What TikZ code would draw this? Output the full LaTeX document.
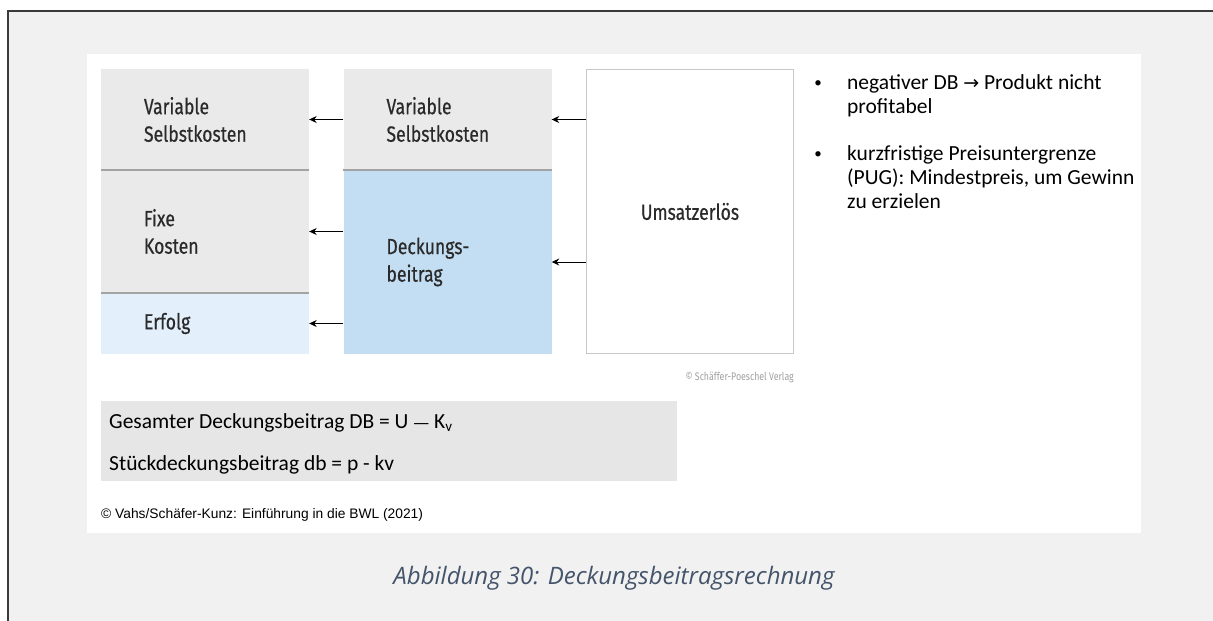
\documentclass[tikz,border=0pt]{standalone}
\usepackage{fontspec}
\setmainfont{Fira Sans}
\newfontfamily\condf[FakeStretch=0.8,FakeBold=0.5]{Fira Sans}
\newfontfamily\verlf[FakeStretch=0.8]{Fira Sans}
\newfontfamily\rndf{Carlito}
\newfontfamily\arialf{Liberation Sans}
\newfontfamily\capf{Open Sans}
\newfontfamily\symf{DejaVu Sans}
\usetikzlibrary{arrows.meta,calc}
\definecolor{bggray}{HTML}{F1F1F1}
\definecolor{frameline}{HTML}{3A3A3A}
\definecolor{boxgray}{HTML}{EAEAEA}
\definecolor{divgray}{HTML}{A3A3A3}
\definecolor{dbblue}{HTML}{C3DEF2}
\definecolor{erfblue}{HTML}{E3EFFB}
\definecolor{formgray}{HTML}{E6E6E6}
\definecolor{captblue}{HTML}{44546A}
\definecolor{txtdark}{HTML}{2A2A2A}
\definecolor{umline}{HTML}{C8C8C8}
\definecolor{verlag}{HTML}{A0A0A0}
\tikzset{
  blk/.style={rectangle, inner ysep=0pt, inner xsep=43pt, text width=122pt,
    minimum width=208pt, align=left, text=txtdark,
    font=\condf\fontsize{22}{27.5}\selectfont},
  divider/.style={divgray, line width=2pt},
  arr/.style={-{Stealth[length=7.5pt,width=7pt]}, line width=1pt, black},
  rnd/.style={inner sep=0pt, font=\rndf\fontsize{21.5}{24}\selectfont, text=black},
}
\begin{document}
\begin{tikzpicture}[x=1pt,y=-1pt]
\useasboundingbox (0,0) rectangle (1213,621);
\fill[white] (0,0) rectangle (1213,621);
\fill[bggray] (8,11) rectangle (1213,621);
\draw[frameline, line width=1.3pt] (8,621) -- (8,11) -- (1213,11);
\fill[white] (87,54) rectangle (1141,533);
% left column
\node[blk, fill=boxgray, minimum height=101pt] (vs1) at (205,119.5) {Variable\\Selbstkosten};
\node[blk, fill=boxgray, minimum height=123pt] (fk) at (205,231.5) {Fixe\\Kosten};
\node[blk, fill=erfblue, minimum height=61pt] (erf) at (205,323.5) {Erfolg};
% middle column
\node[blk, fill=boxgray, minimum height=101pt] (vs2) at (447.5,119.5) {Variable\\Selbstkosten};
\node[blk, fill=dbblue, minimum height=184pt] (db) at (447.5,262) {Deckungs-\\beitrag};
% dividers
\draw[divider] (vs1.south west) -- (vs1.south east);
\draw[divider] (fk.south west) -- (fk.south east);
\draw[divider] (vs2.south west) -- (vs2.south east);
% Umsatz box
\node[rectangle, draw=umline, line width=1.5pt, fill=white, minimum width=207pt,
  minimum height=284pt, text=txtdark, font=\condf\fontsize{22}{27.5}\selectfont]
  (um) at (690,211.5) {Umsatzerl\"os};
% arrows
\draw[arr] (vs2.west) -- (vs1.east);
\draw[arr] (fk.east -| db.west) -- (fk.east);
\draw[arr] (erf.east -| db.west) -- (erf.east);
\draw[arr] (vs2.east -| um.west) -- (vs2.east);
\draw[arr] (db.east -| um.west) -- (db.east);
% publisher note
\node[anchor=base east, inner sep=0pt, text=verlag, font=\verlf\fontsize{11}{13}\selectfont]
  (pv) at (794,380) {\textcopyright\ Sch\"affer-Poeschel Verlag};
% bullets
\node[inner sep=0pt, anchor=base, font=\rndf\fontsize{15}{24}\selectfont] (b1) at (818,87) {\textbullet};
\node[rnd, anchor=base west] (t1a) at (847,89) {negativer DB {\symf\fontsize{19}{24}\selectfont →} Produkt nicht};
\node[rnd, anchor=base west] (t1b) at (847,113) {profitabel};
\node[inner sep=0pt, anchor=base, font=\rndf\fontsize{15}{24}\selectfont] (b2) at (818,158) {\textbullet};
\node[rnd, anchor=base west] (t2a) at (847,160) {kurzfristige Preisuntergrenze};
\node[rnd, anchor=base west] (t2b) at (847,184) {(PUG): Mindestpreis, um Gewinn};
\node[rnd, anchor=base west] (t2c) at (847,208) {zu erzielen};
% formula box
\node[rectangle, fill=formgray, minimum width=576pt, minimum height=80pt, inner sep=0pt]
  (fb) at (389,441) {};
\node[rnd, anchor=base west] (f1) at (109,428) {Gesamter Deckungsbeitrag DB = U {\symf\fontsize{16}{20}\selectfont —} K\textsubscript{v}};
\node[rnd, anchor=base west] (f2) at (109,470.5) {St\"uckdeckungsbeitrag db = p - kv};
% source
\node[anchor=base west, inner sep=0pt, font=\arialf\fontsize{13.8}{16}\selectfont]
  (src) at (101,518) {\textcopyright\ Vahs/Sch\"afer-Kunz: Einf\"uhrung in die BWL (2021)};
% caption
\node[anchor=base, inner sep=0pt, text=captblue, font=\capf\itshape\fontsize{24}{28}\selectfont]
  (cap) at (614,584) {Abbildung 30: Deckungsbeitragsrechnung};
\end{tikzpicture}
\end{document}
